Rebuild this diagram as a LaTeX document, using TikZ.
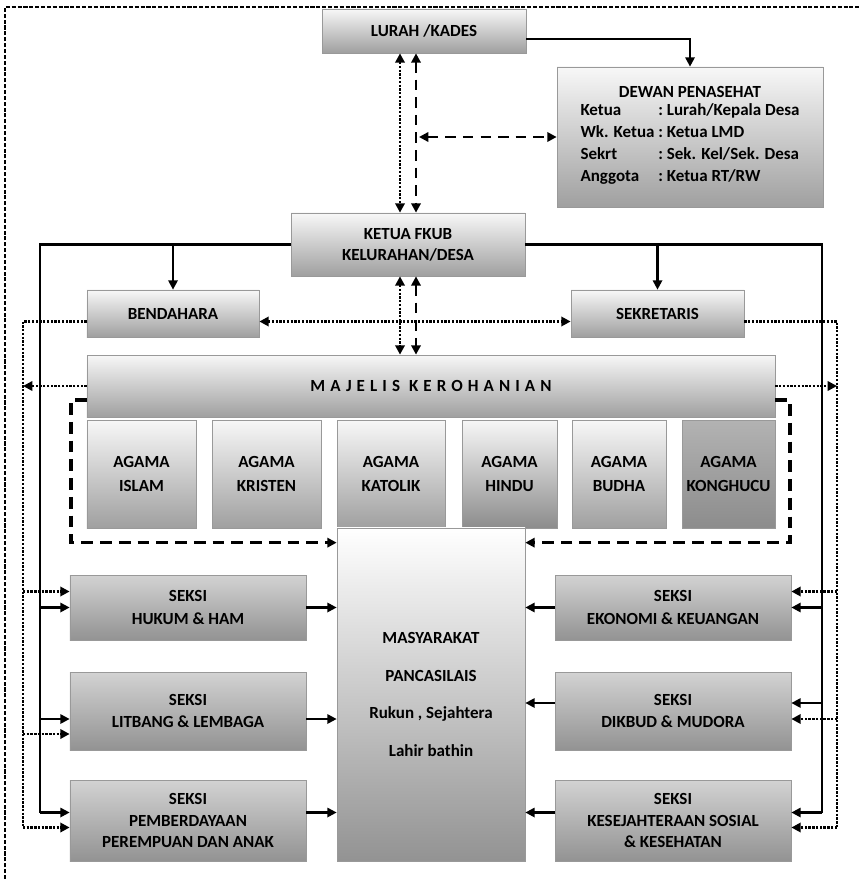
\documentclass[tikz,border=0pt]{standalone}
\usepackage{fontspec}
\setmainfont{Carlito}
\usepackage{xcolor}
\usetikzlibrary{arrows.meta,calc,positioning}
\tikzstyle{orgbox} = [draw=gray!80,line width=0.6pt,top color=gray!6,
  bottom color=gray!75,font=\bfseries\fontsize{14.5}{17}\selectfont,
  align=center,inner sep=2pt]
\tikzstyle{seksibox} = [orgbox,top color=gray!35,bottom color=gray!85]
\tikzstyle{agamabox} = [orgbox,minimum height=3.24cm]
\tikzstyle{cmdline} = [line width=1.8pt]
\tikzstyle{cmdarrow} = [cmdline,-{Triangle[length=8pt,width=8pt]}]
\tikzstyle{dotline} = [line width=2pt,dash pattern=on 2pt off 1.2pt]
\tikzstyle{dotarrow} = [dotline,-{Triangle[length=8pt,width=8pt]}]
\tikzstyle{dotboth} = [dotline,{Triangle[length=8pt,width=8pt]}-{Triangle[length=8pt,width=8pt]}]
\tikzstyle{dashboth} = [line width=2.4pt,dash pattern=on 9pt off 6pt,
  {Triangle[length=8pt,width=8pt]}-{Triangle[length=8pt,width=8pt]}]
\tikzstyle{bigdash} = [line width=3pt,dash pattern=on 10pt off 6pt,
  -{Triangle[length=8pt,width=8pt]}]
\tikzstyle{framedash} = [line width=1pt,dash pattern=on 3.5pt off 1.5pt]

\begin{document}
\begin{tikzpicture}[x=0.03cm,y=-0.03cm]
    \useasboundingbox (0,0) rectangle (859,879);
    % outer frame
    \draw [framedash] (5,879) -- (5,7) -- (859,7);

    % guide coordinates
    \coordinate (vdot) at (400,0);
    \coordinate (vdash) at (416,0);
    \coordinate (lbus) at (40,0);
    \coordinate (rbus) at (822,0);
    \coordinate (ldot) at (23,0);
    \coordinate (rdot) at (837,0);
    \coordinate (lbrk) at (71,0);
    \coordinate (rbrk) at (790,0);

    % top level
    \node [orgbox,minimum width=6.12cm,minimum height=1.32cm] (lurah) at (424,31) {LURAH /KADES};
    \node [orgbox,minimum width=7.98cm,minimum height=4.2cm] (dewan) at (690,137) {%
      DEWAN PENASEHAT\\[1pt]
      \def\arraystretch{1.1}%
      \begin{tabular}{@{}l@{\ :\ }l@{}}
        Ketua & Lurah/Kepala Desa\\
        Wk. Ketua & Ketua LMD\\
        Sekrt & Sek. Kel/Sek. Desa\\
        Anggota & Ketua RT/RW
      \end{tabular}};
    \node [orgbox,minimum width=7.02cm,minimum height=1.89cm] (ketua) at (408,244.5) {KETUA FKUB\\[1pt]KELURAHAN/DESA};
    \node [orgbox,minimum width=5.16cm,minimum height=1.41cm] (bendahara) at (173,313.5) {BENDAHARA};
    \node [orgbox,minimum width=5.19cm,minimum height=1.41cm] (sekretaris) at (657.5,313.5) {SEKRETARIS};

    % majelis
    \node [orgbox,minimum width=20.64cm,minimum height=1.86cm] (majelis) at (431,386) {%
      \addfontfeatures{LetterSpace=30}MAJELIS KEROHANIAN};
    \node [agamabox,minimum width=3.27cm] (islam) at (141.5,474) {AGAMA\\[4pt]ISLAM};
    \node [agamabox,minimum width=3.27cm] (kristen) at (266.5,474) {AGAMA\\[4pt]KRISTEN};
    \node [agamabox,minimum width=3.24cm] (katolik) at (391,474) {AGAMA\\[4pt]KATOLIK};
    \node [agamabox,minimum width=2.85cm,bottom color=gray!90] (hindu) at (509.5,474) {AGAMA\\[4pt]HINDU};
    \node [agamabox,minimum width=2.82cm] (budha) at (619,474) {AGAMA\\[4pt]BUDHA};
    \node [agamabox,minimum width=2.79cm,top color=gray!60,bottom color=gray!90] (konghucu) at (728.5,474) {AGAMA\\[4pt]KONGHUCU};

    % masyarakat
    \node [orgbox,minimum width=5.64cm,minimum height=9.99cm,top color=white,bottom color=gray!85] (masy) at (431,694.5) {%
      MASYARAKAT\\[15pt]PANCASILAIS\\[15pt]Rukun , Sejahtera\\[15pt]Lahir bathin};

    % seksi
    \node [seksibox,minimum width=7.08cm,minimum height=1.95cm] (hukum) at (188,607.5) {SEKSI\\[2pt]HUKUM \& HAM};
    \node [seksibox,minimum width=7.08cm,minimum height=2.34cm] (litbang) at (188,711) {SEKSI\\[2pt]LITBANG \& LEMBAGA};
    \node [seksibox,minimum width=7.08cm,minimum height=2.43cm] (pemb) at (188,820.5) {SEKSI\\[1pt]PEMBERDAYAAN\\[1pt]PEREMPUAN DAN ANAK};
    \node [seksibox,minimum width=7.08cm,minimum height=1.95cm] (ekonomi) at (673,607.5) {SEKSI\\[2pt]EKONOMI \& KEUANGAN};
    \node [seksibox,minimum width=7.08cm,minimum height=2.34cm] (dikbud) at (673,711) {SEKSI\\[2pt]DIKBUD \& MUDORA};
    \node [seksibox,minimum width=7.08cm,minimum height=2.43cm] (kesej) at (673,820.5) {SEKSI\\[1pt]KESEJAHTERAAN SOSIAL\\[1pt]\& KESEHATAN};

    % command lines
    \draw [cmdarrow] ($(lurah.east)+(0,8)$) -| (dewan.north);
    \draw [cmdline] (ketua.west) -- (ketua.west -| lbus) -- ($(pemb.west -| lbus)+(0,-8)$);
    \draw [cmdline] (ketua.east) -- (ketua.east -| rbus) -- ($(kesej.east -| rbus)+(0,-8)$);
    \draw [cmdarrow] (ketua.west -| bendahara.north) -- (bendahara.north);
    \draw [cmdarrow] (ketua.east -| sekretaris.north) -- (sekretaris.north);

    % coordination lines
    \draw [dotboth] (lurah.south -| vdot) -- (ketua.north -| vdot);
    \draw [dashboth] (lurah.south -| vdash) -- (ketua.north -| vdash);
    \draw [dashboth] ($(dewan.west -| vdash)+(3,0)$) -- (dewan.west);
    \draw [dotboth] (ketua.south -| vdot) -- (majelis.north -| vdot);
    \draw [dashboth] (ketua.south -| vdash) -- (majelis.north -| vdash);
    \draw [dotboth] ($(bendahara.east)+(0,8)$) -- ($(sekretaris.west)+(0,8)$);
    \draw [dotline] ($(bendahara.west)+(0,8)$) -- ($(bendahara.west -| ldot)+(0,8)$) -- ($(pemb.west -| ldot)+(0,7)$);
    \draw [dotline] ($(sekretaris.east)+(0,8)$) -- ($(sekretaris.east -| rdot)+(0,8)$) -- ($(kesej.east -| rdot)+(0,7)$);
    \draw [dotarrow] (majelis.west) -- (majelis.west -| ldot);
    \draw [dotarrow] (majelis.east) -- (majelis.east -| rdot);

    % majelis to masyarakat
    \draw [bigdash] ($(majelis.west)+(0,14)$) -| ($(masy.north west -| lbrk)+(0,15)$) -- ($(masy.north west)+(0,15)$);
    \draw [bigdash] ($(majelis.east)+(0,14)$) -| ($(masy.north east -| rbrk)+(0,15)$) -- ($(masy.north east)+(0,15)$);

    % left seksi
    \draw [cmdarrow] (hukum.west -| lbus) -- (hukum.west);
    \draw [dotarrow] ($(hukum.west -| ldot)+(0,-16)$) -- ($(hukum.west)+(0,-16)$);
    \draw [cmdarrow] ($(litbang.west -| lbus)+(0,8)$) -- ($(litbang.west)+(0,8)$);
    \draw [dotarrow] ($(litbang.west -| ldot)+(0,23)$) -- ($(litbang.west)+(0,23)$);
    \draw [cmdarrow] ($(pemb.west -| lbus)+(0,-8)$) -- ($(pemb.west)+(0,-8)$);
    \draw [dotarrow] ($(pemb.west -| ldot)+(0,7)$) -- ($(pemb.west)+(0,7)$);
    \draw [cmdarrow] (hukum.east) -- (hukum.east -| masy.west);
    \draw [cmdarrow] ($(litbang.east)+(0,8)$) -- ($(litbang.east -| masy.west)+(0,8)$);
    \draw [cmdarrow] ($(pemb.east)+(0,-8)$) -- ($(pemb.east -| masy.west)+(0,-8)$);

    % right seksi
    \draw [cmdarrow] (ekonomi.east -| rbus) -- (ekonomi.east);
    \draw [dotarrow] ($(ekonomi.east -| rdot)+(0,-16)$) -- ($(ekonomi.east)+(0,-16)$);
    \draw [cmdarrow] ($(dikbud.east -| rbus)+(0,-8)$) -- ($(dikbud.east)+(0,-8)$);
    \draw [dotarrow] ($(dikbud.east -| rdot)+(0,8)$) -- ($(dikbud.east)+(0,8)$);
    \draw [cmdarrow] ($(kesej.east -| rbus)+(0,-8)$) -- ($(kesej.east)+(0,-8)$);
    \draw [dotarrow] ($(kesej.east -| rdot)+(0,7)$) -- ($(kesej.east)+(0,7)$);
    \draw [cmdarrow] (ekonomi.west) -- (ekonomi.west -| masy.east);
    \draw [cmdarrow] ($(dikbud.west)+(0,-8)$) -- ($(dikbud.west -| masy.east)+(0,-8)$);
    \draw [cmdarrow] ($(kesej.west)+(0,-8)$) -- ($(kesej.west -| masy.east)+(0,-8)$);
\end{tikzpicture}
\end{document}
